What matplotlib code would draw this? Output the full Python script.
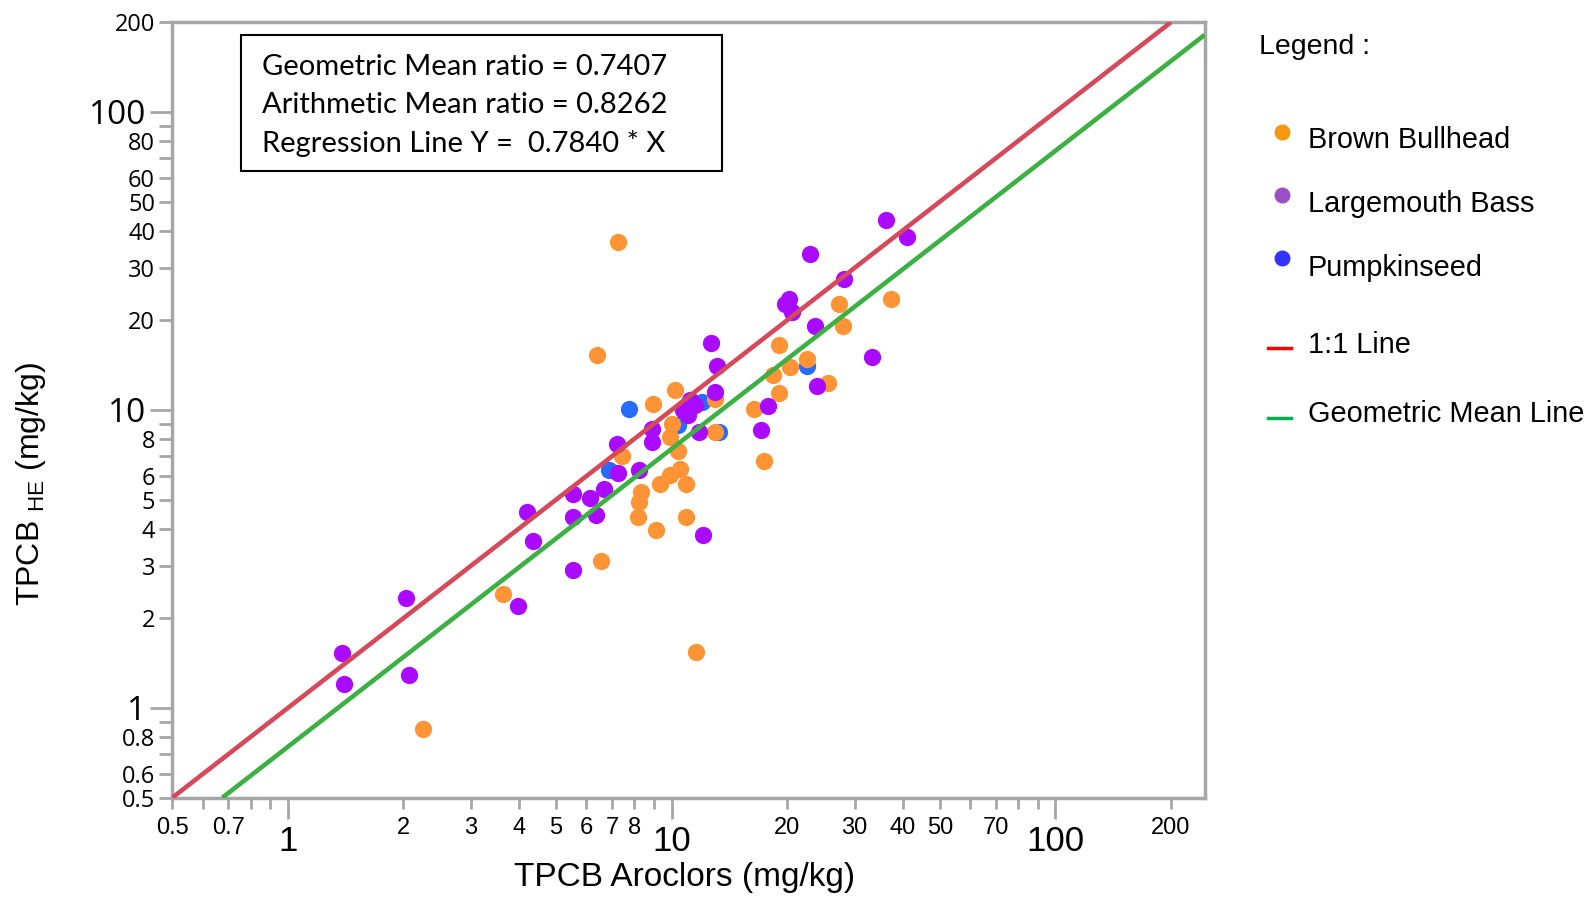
import matplotlib.pyplot as plt
from matplotlib.lines import Line2D
from matplotlib.patches import Rectangle

# Brown Bullhead (orange)
bb_x = [7.26, 6.39, 2.25, 3.64, 6.54, 11.6, 8.95, 10.2, 13.0, 10.0, 9.9, 10.4, 13.0,
        16.4, 19.0, 18.4, 19.0, 17.4, 7.44, 10.5, 9.9, 10.9, 9.31, 8.34, 8.22, 8.17,
        9.13, 10.9, 27.3, 37.2, 27.9, 22.5, 20.3, 25.5]
bb_y = [36.6, 15.3, 0.848, 2.41, 3.12, 1.54, 10.5, 11.7, 10.9, 8.95, 8.13, 7.28, 8.45,
        10.1, 16.5, 13.1, 11.4, 6.74, 7.0, 6.36, 6.04, 5.63, 5.63, 5.31, 4.91, 4.38,
        3.95, 4.38, 22.7, 23.6, 19.1, 14.8, 13.9, 12.3]

# Largemouth Bass (purple)
lb_x = [1.38, 1.40, 2.03, 2.07, 3.97, 4.19, 4.35, 5.55, 5.55, 5.55, 6.12, 6.35, 6.67,
        7.21, 7.25, 8.20, 8.88, 8.88, 12.7, 13.15, 13.0, 11.15, 11.5, 10.7, 11.0, 11.8,
        17.1, 17.8, 12.1, 36.2, 41.0, 22.9, 28.2, 20.2, 19.7, 20.6, 23.7, 33.2, 23.9]
lb_y = [1.53, 1.20, 2.34, 1.29, 2.19, 4.56, 3.63, 5.21, 4.38, 2.91, 5.05, 4.45, 5.42,
        7.71, 6.14, 6.29, 8.61, 7.78, 16.8, 14.0, 11.5, 10.8, 10.4, 10.0, 9.6, 8.46,
        8.57, 10.3, 3.80, 43.4, 38.1, 33.5, 27.5, 23.5, 22.6, 21.4, 19.2, 15.1, 12.05]

# Pumpkinseed (blue)
ps_x = [7.73, 6.87, 12.0, 10.4, 13.3, 22.5]
ps_y = [10.1, 6.29, 10.65, 8.91, 8.45, 14.0]

gm_ratio = 0.7407
am_ratio = 0.8262
reg_slope = 0.7840
line11_x = [0.5, 200]
gm_x = [0.675, 245]

x_major = [1, 10, 100]
x_minor = [0.5, 0.6, 0.7, 0.8, 0.9, 2, 3, 4, 5, 6, 7, 8, 9, 20, 30, 40, 50, 60, 70, 80, 90, 200]
x_minor_lbl = ['0.5', '', '0.7', '', '', '2', '3', '4', '5', '6', '7', '8', '', '20', '30',
               '40', '50', '', '70', '', '', '200']
y_major = [1, 10, 100]
y_minor = [0.5, 0.6, 0.7, 0.8, 0.9, 2, 3, 4, 5, 6, 7, 8, 9, 20, 30, 40, 50, 60, 70, 80, 90, 200]
y_minor_lbl = ['0.5', '0.6', '', '0.8', '', '2', '3', '4', '5', '6', '', '8', '', '20', '30',
               '40', '50', '60', '', '80', '', '200']

arial = ['Liberation Sans', 'DejaVu Sans']
grey = '#a6a6a6'


def fx(px):
    return px / 1568


def fy(py):
    return 1 - py / 889


fig = plt.figure(figsize=(15.9, 9.01), dpi=100)
ax = fig.add_axes([fx(170), fy(787), fx(1188) - fx(170), fy(22) - fy(787)])
ax.set_xscale('log')
ax.set_yscale('log')
ax.set_xlim(0.5, 245)
ax.set_ylim(0.5, 200)

ax.scatter(ps_x, ps_y, s=155, color='#2a6bff', linewidths=0, zorder=2)
ax.scatter(bb_x, bb_y, s=155, color='#ff9436', linewidths=0, zorder=3)
ax.scatter(lb_x, lb_y, s=155, color='#aa0aff', linewidths=0, zorder=4)

ax.plot(line11_x, line11_x, color='#d44a5a', lw=3.3, zorder=5, solid_capstyle='butt')
ax.plot(gm_x, [v * gm_ratio for v in gm_x], color='#3cb043', lw=3.3, zorder=5,
        solid_capstyle='butt')

for s in ax.spines.values():
    s.set_color(grey)
    s.set_linewidth(2.5)

ax.set_xticks(x_major, [str(v) for v in x_major])
ax.set_xticks(x_minor, x_minor_lbl, minor=True)
ax.set_yticks(y_major, [str(v) for v in y_major])
ax.set_yticks(y_minor, y_minor_lbl, minor=True)

ax.tick_params(axis='x', which='major', length=15, width=2, color=grey, labelsize=25, pad=5)
ax.tick_params(axis='x', which='minor', length=8, width=2, color=grey, labelsize=17, pad=6)
ax.tick_params(axis='y', which='major', length=16, width=2, color=grey, labelsize=24, pad=3)
ax.tick_params(axis='y', which='minor', length=9.5, width=2, color=grey, labelsize=17, pad=3)
for lbl in ax.get_xticklabels(which='both'):
    lbl.set_fontfamily(arial)
for lbl in ax.get_yticklabels(which='both'):
    lbl.set_fontfamily(['Open Sans', 'DejaVu Sans'])

fig.text(fx(675), fy(866), 'TPCB Aroclors (mg/kg)', ha='center', va='center',
         fontsize=24, family=arial)
fig.text(fx(31), fy(478), r'TPCB $_{\mathregular{HE}}$ (mg/kg)', ha='center', va='center',
         rotation=90, fontsize=23, family=arial)

# stats box
fig.add_artist(Rectangle((fx(238), fy(169)), fx(712) - fx(238), fy(35) - fy(169),
                         transform=fig.transFigure, fill=False, edgecolor='black', lw=1.5))
box_lines = ['Geometric Mean ratio = %.4f' % gm_ratio,
             'Arithmetic Mean ratio = %.4f' % am_ratio,
             'Regression Line Y =  %.4f * X' % reg_slope]
for i, t in enumerate(box_lines):
    fig.text(fx(258), fy(66 + 38 * i), t, ha='left', va='center', fontsize=21,
             family=['Lato', 'DejaVu Sans'])

# legend
fig.text(fx(1242), fy(46), 'Legend :', ha='left', va='center', fontsize=20.5, family=arial)
leg_pts = [('Brown Bullhead', '#f7960f', 130, 138),
           ('Largemouth Bass', '#9b4fc8', 192, 201),
           ('Pumpkinseed', '#3333ff', 255, 264)]
for name, c, my, ty in leg_pts:
    fig.add_artist(Line2D([fx(1264)], [fy(my)], marker='o', markersize=11.5, color=c,
                          markeredgewidth=0, transform=fig.transFigure))
    fig.text(fx(1290), fy(ty), name, ha='left', va='center', fontsize=20.8, family=arial)
leg_lines = [('1:1 Line', '#ff0000', 343, 340), ('Geometric Mean Line', '#00b050', 412, 408)]
for name, c, ly, ty in leg_lines:
    fig.add_artist(Line2D([fx(1250), fx(1273)], [fy(ly), fy(ly)], color=c, lw=2.5,
                          transform=fig.transFigure))
    fig.text(fx(1290), fy(ty), name, ha='left', va='center', fontsize=20.8, family=arial)

plt.savefig('out.png', dpi=100)
plt.close()
